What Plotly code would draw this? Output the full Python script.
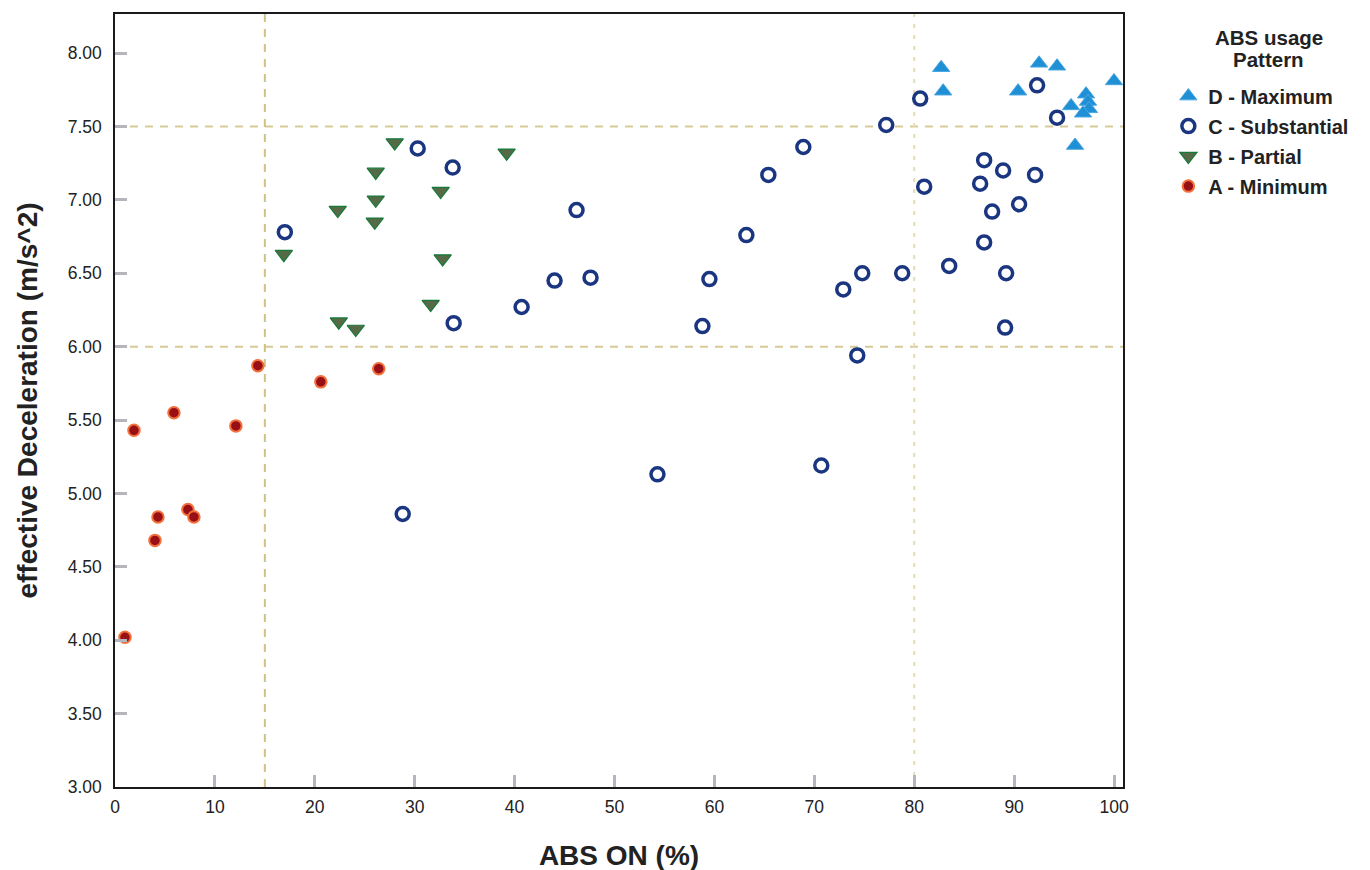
import plotly.graph_objects as go

# ---- data ----
d_x = [82.7, 82.9, 92.5, 94.3, 90.4, 100.0, 95.7, 97.2, 97.4, 97.5, 96.9, 96.1]
d_y = [7.90, 7.74, 7.93, 7.91, 7.74, 7.81, 7.64, 7.72, 7.67, 7.62, 7.59, 7.37]

c_x = [17.0, 30.3, 33.8, 33.9, 28.8, 40.7, 44.0, 46.2, 47.6, 54.3, 58.8, 59.5,
       63.2, 65.4, 68.9, 70.7, 72.9, 74.3, 74.8, 77.2, 78.8, 80.6, 81.0, 83.5,
       86.6, 87.0, 87.0, 87.8, 88.9, 89.2, 89.1, 90.5, 92.1, 92.3, 94.3]
c_y = [6.78, 7.35, 7.22, 6.16, 4.86, 6.27, 6.45, 6.93, 6.47, 5.13, 6.14, 6.46,
       6.76, 7.17, 7.36, 5.19, 6.39, 5.94, 6.50, 7.51, 6.50, 7.69, 7.09, 6.55,
       7.11, 7.27, 6.71, 6.92, 7.20, 6.50, 6.13, 6.97, 7.17, 7.78, 7.56]

b_x = [39.2, 28.0, 26.1, 32.6, 26.1, 22.3, 26.0, 16.9, 32.8, 31.6, 22.4, 24.1]
b_y = [7.32, 7.39, 7.19, 7.06, 7.00, 6.93, 6.85, 6.63, 6.60, 6.29, 6.17, 6.12]

a_x = [14.3, 20.6, 26.4, 5.9, 1.9, 12.1, 4.3, 7.3, 7.9, 4.0, 1.0]
a_y = [5.87, 5.76, 5.85, 5.55, 5.43, 5.46, 4.84, 4.89, 4.84, 4.68, 4.02]

series_names = ["D - Maximum", "C - Substantial", "B - Partial", "A - Minimum"]
legend_title_lines = ["ABS usage", "Pattern"]
x_ticks = list(range(0, 101, 10))
y_ticks = [3.0, 3.5, 4.0, 4.5, 5.0, 5.5, 6.0, 6.5, 7.0, 7.5, 8.0]
ref_y = [6.0, 7.5]
ref_x15 = 15
ref_x80 = 80

FONT = "Liberation Sans, Arial, sans-serif"
TXT = "#222222"

fig = go.Figure()
fig.add_trace(go.Scatter(
    x=d_x, y=d_y, mode="markers", name=series_names[0], legendgroup="d",
    marker=dict(symbol="triangle-up", size=15, color="#1f8fd6",
                line=dict(color="#4aa6e0", width=1))))
fig.add_trace(go.Scatter(
    x=c_x, y=c_y, mode="markers", name=series_names[1], legendgroup="c",
    marker=dict(symbol="circle", size=13, color="white",
                line=dict(color="#1b3680", width=3.5))))
fig.add_trace(go.Scatter(
    x=b_x, y=b_y, mode="markers", name=series_names[2], legendgroup="b",
    marker=dict(symbol="triangle-down", size=15, color="#566a48",
                line=dict(color="#16793a", width=1.2))))
fig.add_trace(go.Scatter(
    x=a_x, y=a_y, mode="markers", name=series_names[3], legendgroup="a",
    marker=dict(symbol="circle", size=11.5, color="#980f15",
                line=dict(color="#f2703c", width=2))))

shapes = []
for yv in ref_y:
    shapes.append(dict(type="line", xref="paper", yref="y", x0=0, x1=1, y0=yv, y1=yv,
                       line=dict(color="#d6cb98", width=2, dash="8px,7px"), layer="below"))
shapes.append(dict(type="line", xref="x", yref="paper", x0=ref_x15, x1=ref_x15, y0=0, y1=1,
                   line=dict(color="#d0c184", width=2, dash="8px,7px"), layer="below"))
shapes.append(dict(type="line", xref="x", yref="paper", x0=ref_x80, x1=ref_x80, y0=0, y1=1,
                   line=dict(color="#e3ddb0", width=2, dash="4px,7px"), layer="below"))

T = 4
PH = 775
annotations = [
    dict(text=legend_title_lines[0], xref="paper", yref="paper", x=1.1448, y=1 - (28 - T) / PH,
         xanchor="center", yanchor="middle", showarrow=False,
         font=dict(family=FONT, size=20.5, color=TXT, weight="bold")),
    dict(text=legend_title_lines[1], xref="paper", yref="paper", x=1.1448, y=1 - (50 - T) / PH,
         xanchor="center", yanchor="middle", showarrow=False,
         font=dict(family=FONT, size=20.5, color=TXT, weight="bold")),
]

fig.update_layout(
    width=1370, height=870,
    margin=dict(l=107, r=255, t=T, b=870 - T - PH),
    paper_bgcolor="white", plot_bgcolor="white",
    font=dict(family=FONT, color=TXT, size=17),
    shapes=shapes,
    annotations=annotations,
    showlegend=True,
    legend=dict(
        x=1.045, y=0.919, xanchor="left", yanchor="top",
        traceorder="grouped", tracegroupgap=1,
        font=dict(family=FONT, size=20, color=TXT, weight="bold"),
        itemwidth=30,
    ),
    xaxis=dict(
        range=[0, 100.9], tickmode="array", tickvals=x_ticks,
        ticktext=[str(v) for v in x_ticks],
        showgrid=False, zeroline=False,
        showline=True, linecolor="#1a1a1a", linewidth=1.5, mirror=True,
        ticks="inside", ticklen=12, tickwidth=2.5, tickcolor="#b5b5bd",
        tickfont=dict(size=17.5, color=TXT), ticklabelstandoff=3,
        title=dict(text="ABS ON (%)", standoff=30,
                   font=dict(size=28, color=TXT, weight="bold")),
    ),
    yaxis=dict(
        range=[3, 8.266], tickmode="array", tickvals=y_ticks,
        ticktext=["%.2f" % v for v in y_ticks],
        showgrid=False, zeroline=False,
        showline=True, linecolor="#1a1a1a", linewidth=1.5, mirror=True,
        ticks="inside", ticklen=12, tickwidth=2.5, tickcolor="#b5b5bd",
        tickfont=dict(size=17.5, color=TXT), ticklabelstandoff=8,
        title=dict(text="effective Deceleration (m/s^2)", standoff=22,
                   font=dict(size=28, color=TXT, weight="bold")),
    ),
)

fig.write_html("out.html")
